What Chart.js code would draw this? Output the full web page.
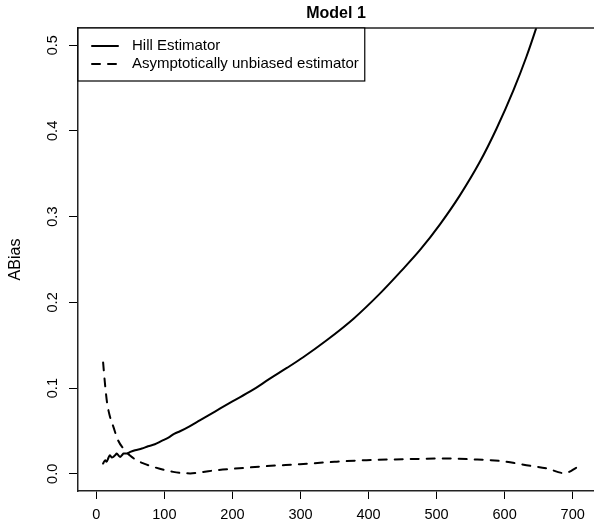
<!DOCTYPE html>
<html><head><meta charset="utf-8">
<script src="https://cdn.jsdelivr.net/npm/chart.js@4"></script>
<style>html,body{margin:0;padding:0;background:#fff;}canvas{display:block;}</style>
</head><body>
<canvas id="c" width="594" height="524"></canvas>
<script>
const chartTitle = 'Model 1';
const yAxisLabel = 'ABias';
const seriesNames = ['Hill Estimator', 'Asymptotically unbiased estimator'];

const hillK = [10,13,15,18,20,23,25,28,30,33,35,38,40,45,50,57,67,76,86,96,106,115,123,137,152,175,200,228,255,280,304,338,378,417,446,476,505,534,564,588,613,632,646,652];
const hillABias = [0.012,0.016,0.014,0.019,0.0217,0.019,0.0198,0.022,0.0237,0.021,0.0198,0.022,0.0237,0.0237,0.0256,0.0276,0.0295,0.0322,0.0345,0.0384,0.0423,0.047,0.0497,0.0555,0.0624,0.073,0.0845,0.097,0.111,0.1235,0.136,0.1555,0.181,0.2105,0.2349,0.2614,0.291,0.3245,0.3645,0.4025,0.4475,0.4865,0.519,0.534];

const aubK = [10,13,16,20,25,32,42,50,59,70,84,100,113,125,138,155,177,210,250,299,350,397,450,510,550,593,632,662,688,707];
const aubABias = [0.130,0.103,0.082,0.067,0.055,0.039,0.0276,0.021,0.016,0.012,0.0081,0.0045,0.0023,0.001,0.0005,0.002,0.0043,0.0065,0.009,0.0113,0.014,0.016,0.017,0.0179,0.017,0.0151,0.0101,0.0063,0.0008,0.0078];

const xTicks = [0,100,200,300,400,500,600,700];
const yTicks = [0,0.1,0.2,0.3,0.4,0.5];
const yTickLabels = ['0.0','0.1','0.2','0.3','0.4','0.5'];

const FONT = '"Liberation Sans", Arial, Helvetica, sans-serif';

const framePlugin = {
  id: 'frameTop',
  afterDraw(chart) {
    const ctx = chart.ctx, a = chart.chartArea;
    ctx.save();
    ctx.strokeStyle = '#222';
    ctx.lineWidth = 1.5;
    ctx.beginPath();
    ctx.moveTo(a.left, a.top);
    ctx.lineTo(a.right, a.top);
    ctx.stroke();
    ctx.restore();
  }
};

const boxLegend = {
  id: 'boxLegend',
  afterDraw(chart) {
    const ctx = chart.ctx, a = chart.chartArea;
    const x0 = a.left, y0 = a.top;
    ctx.save();
    ctx.font = '15px ' + FONT;
    const widths = chart.data.datasets.map(d => ctx.measureText(d.label).width);
    const w = 54 + Math.max(...widths) + 6;
    const h = 53;
    ctx.fillStyle = '#fff';
    ctx.fillRect(x0, y0, w, h);
    ctx.strokeStyle = '#000';
    ctx.lineWidth = 1.2;
    ctx.strokeRect(x0, y0, w, h);
    chart.data.datasets.forEach((d, i) => {
      const y = y0 + 18 + 18 * i;
      ctx.setLineDash(d.borderDash || []);
      ctx.lineCap = d.borderCapStyle || 'butt';
      ctx.lineWidth = d.borderWidth;
      ctx.strokeStyle = d.borderColor;
      ctx.beginPath();
      ctx.moveTo(x0 + 14, y);
      ctx.lineTo(x0 + 40, y);
      ctx.stroke();
      ctx.setLineDash([]);
      ctx.fillStyle = '#000';
      ctx.textBaseline = 'middle';
      ctx.textAlign = 'left';
      ctx.fillText(d.label, x0 + 54, y);
    });
    ctx.restore();
  }
};

new Chart(document.getElementById('c'), {
  type: 'line',
  data: {
    datasets: [
      {
        label: seriesNames[0],
        data: hillK.map((k, i) => ({x: k, y: hillABias[i]})),
        borderColor: '#000', borderWidth: 2, pointRadius: 0,
        cubicInterpolationMode: 'monotone',
        borderCapStyle: 'round', borderJoinStyle: 'round', fill: false
      },
      {
        label: seriesNames[1],
        data: aubK.map((k, i) => ({x: k, y: aubABias[i]})),
        borderColor: '#000', borderWidth: 2, pointRadius: 0,
        cubicInterpolationMode: 'monotone',
        borderDash: [8, 8], borderCapStyle: 'round', borderJoinStyle: 'round', fill: false
      }
    ]
  },
  options: {
    responsive: false,
    animation: false,
    devicePixelRatio: 1,
    layout: {padding: 0},
    plugins: {
      legend: {display: false},
      tooltip: {enabled: false},
      title: {
        display: true, text: chartTitle, fullSize: false, color: '#000',
        font: {family: FONT, size: 16, weight: 'bold', lineHeight: 1.2},
        padding: {top: 4, bottom: 4.8}
      }
    },
    scales: {
      x: {
        type: 'linear', position: 'bottom', min: -26.9, max: 731.3,
        afterBuildTicks: s => { s.ticks = xTicks.map(v => ({value: v})); },
        afterFit: s => { s.height = 33; },
        grid: {display: true, drawOnChartArea: false, drawTicks: true, tickLength: 8, color: '#000', lineWidth: 1},
        border: {display: true, color: '#222', width: 1.5},
        ticks: {color: '#000', font: {family: FONT, size: 14.5}, padding: 7, maxRotation: 0, autoSkip: false}
      },
      y: {
        type: 'linear', position: 'left', min: -0.02, max: 0.52,
        afterBuildTicks: s => { s.ticks = yTicks.map(v => ({value: v})); },
        afterFit: s => { s.width = 78; },
        grid: {display: true, drawOnChartArea: false, drawTicks: true, tickLength: 9, color: '#000', lineWidth: 1},
        border: {display: true, color: '#222', width: 1.5},
        ticks: {
          color: '#000', font: {family: FONT, size: 14.5}, padding: 6,
          minRotation: 90, maxRotation: 90, crossAlign: 'center', autoSkip: false,
          callback: (v, i) => yTickLabels[i]
        },
        title: {display: true, text: yAxisLabel, color: '#000', font: {family: FONT, size: 16}, padding: {top: 6, bottom: 0}}
      }
    }
  },
  plugins: [framePlugin, boxLegend]
});
</script>
</body></html>
